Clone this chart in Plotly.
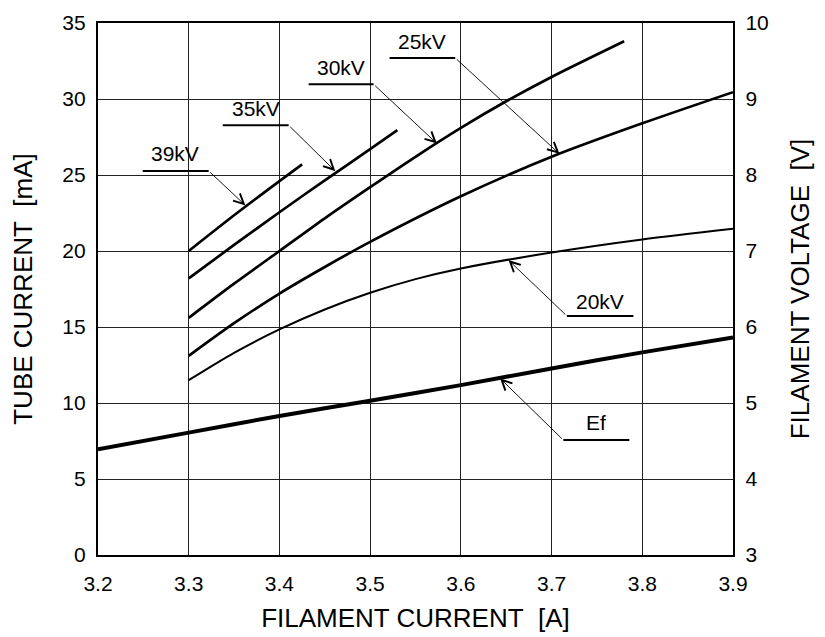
import plotly.graph_objects as go

# ---------------- data ----------------
x_39kv = [3.30, 3.35, 3.40, 3.425]
y_39kv = [20.0, 22.35, 24.6, 25.7]

x_35kv = [3.30, 3.35, 3.40, 3.45, 3.50, 3.53]
y_35kv = [18.2, 20.4, 22.55, 24.65, 26.7, 27.95]

x_30kv = [3.30, 3.35, 3.40, 3.45, 3.50, 3.55, 3.60, 3.65, 3.70, 3.78]
y_30kv = [15.6, 17.85, 20.0, 22.15, 24.2, 26.2, 28.1, 29.85, 31.45, 33.8]

x_25kv = [3.30, 3.35, 3.40, 3.45, 3.50, 3.60, 3.70, 3.80, 3.90]
y_25kv = [13.1, 15.25, 17.2, 18.95, 20.6, 23.6, 26.2, 28.4, 30.45]

x_20kv = [3.30, 3.35, 3.40, 3.45, 3.50, 3.55, 3.60, 3.70, 3.80, 3.90]
y_20kv = [11.5, 13.3, 14.84, 16.15, 17.25, 18.15, 18.85, 19.9, 20.76, 21.46]

x_ef = [3.20, 3.30, 3.40, 3.50, 3.60, 3.70, 3.80, 3.90]
v_ef = [4.39, 4.61, 4.83, 5.03, 5.235, 5.455, 5.666, 5.863]

x_ticks = [3.2, 3.3, 3.4, 3.5, 3.6, 3.7, 3.8, 3.9]
y_ticks = [0, 5, 10, 15, 20, 25, 30, 35]
y2_ticks = [3, 4, 5, 6, 7, 8, 9, 10]

FONT = "Liberation Sans, Arial, sans-serif"

fig = go.Figure()

def curve(x, y, width, yaxis="y", name=""):
    fig.add_trace(go.Scatter(x=x, y=y, mode="lines", name=name, yaxis=yaxis,
                             line=dict(color="black", width=width, shape="spline", smoothing=0.8),
                             hoverinfo="skip", showlegend=False))

curve(x_39kv, y_39kv, 2.7, name="39kV")
curve(x_35kv, y_35kv, 2.7, name="35kV")
curve(x_30kv, y_30kv, 2.7, name="30kV")
curve(x_25kv, y_25kv, 2.7, name="25kV")
curve(x_20kv, y_20kv, 2.0, name="20kV")
curve(x_ef, v_ef, 4.0, yaxis="y2", name="Ef")

# ---------------- label callouts (layout only) ----------------
# (text, text_x, text_y, underline_x0, underline_x1, underline_y, tail_x, tip_x, tip_y)
callouts = [
    ("39kV", 3.2854, 26.40, 3.2493, 3.3220, 25.27, 3.3220, 3.3625, 23.0),
    ("35kV", 3.3740, 29.40, 3.3375, 3.4102, 28.27, 3.4102, 3.4616, 25.25),
    ("30kV", 3.4680, 32.07, 3.4322, 3.5038, 30.97, 3.5038, 3.5736, 27.07),
    ("25kV", 3.5576, 33.78, 3.5214, 3.5938, 32.70, 3.5938, 3.7087, 26.39),
    ("20kV", 3.7535, 16.68, 3.7168, 3.7902, 15.73, 3.7168, 3.6525, 19.40),
    ("Ef",   3.7493, 8.73,  3.7130, 3.7857, 7.56,  3.7130, 3.6433, 11.62),
]

annotations = []
shapes = []
for txt, tx, ty, ux0, ux1, uy, tailx, tipx, tipy in callouts:
    annotations.append(dict(x=tx, y=ty, xref="x", yref="y", text=txt, showarrow=False,
                            xanchor="center", yanchor="middle",
                            font=dict(family=FONT, size=21, color="black")))
    shapes.append(dict(type="line", xref="x", yref="y", x0=ux0, x1=ux1, y0=uy, y1=uy,
                       line=dict(color="black", width=2)))
    annotations.append(dict(x=tipx, y=tipy, xref="x", yref="y", ax=tailx, ay=uy,
                            axref="x", ayref="y", text="", showarrow=True,
                            arrowhead=5, arrowsize=2.2, arrowwidth=0.9, arrowcolor="black",
                            standoff=0, startstandoff=0))

grid = dict(showgrid=True, gridcolor="#222222", gridwidth=1)

fig.update_layout(
    width=825, height=637,
    margin=dict(l=90, r=100, t=15, b=90),
    paper_bgcolor="white", plot_bgcolor="white",
    font=dict(family=FONT, size=21, color="black"),
    xaxis=dict(range=[3.2, 3.9], tickvals=x_ticks, ticktext=[f"{v:.1f}" for v in x_ticks],
               showline=True, linecolor="black", linewidth=2.4, mirror=True,
               ticks="", zeroline=False, automargin=False, ticklabelstandoff=9,
               tickfont=dict(size=21, family=FONT),
               title=dict(text="FILAMENT CURRENT\u00a0\u00a0[A]", font=dict(size=26, family=FONT), standoff=14),
               **grid),
    yaxis=dict(range=[0, 35], tickvals=y_ticks, ticktext=[str(v) for v in y_ticks],
               showline=True, linecolor="black", linewidth=2.4, mirror=True,
               ticks="", zeroline=False, automargin=False, ticklabelstandoff=6,
               tickfont=dict(size=21, family=FONT),
               title=dict(text="TUBE CURRENT\u00a0\u00a0[mA]", font=dict(size=26, family=FONT), standoff=24),
               **grid),
    yaxis2=dict(range=[3, 10], tickvals=y2_ticks, ticktext=[str(v) for v in y2_ticks],
                overlaying="y", side="right", showgrid=False, zeroline=False,
                showline=True, linecolor="black", linewidth=2.4,
                ticks="", automargin=False, ticklabelstandoff=6,
                tickfont=dict(size=21, family=FONT),
                title=dict(text="FILAMENT VOLTAGE\u00a0\u00a0[V]", font=dict(size=26, family=FONT), standoff=23)),
    annotations=annotations,
    shapes=shapes,
    showlegend=False,
)

fig.write_html("out.html")
